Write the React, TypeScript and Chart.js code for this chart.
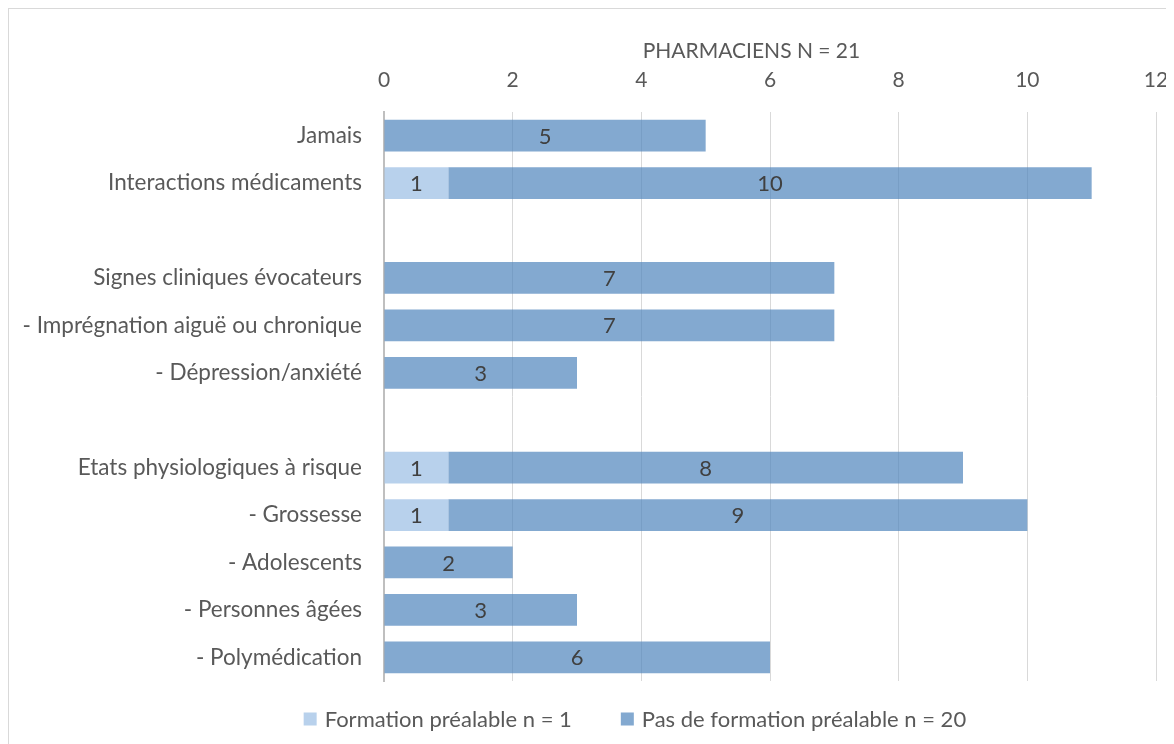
import React, { useEffect, useRef } from "react";
import { Chart, registerables } from "chart.js";

Chart.register(...registerables);

const categories: string[] = [
  "Jamais",
  "Interactions médicaments",
  "",
  "Signes cliniques évocateurs",
  "- Imprégnation aiguë ou chronique",
  "- Dépression/anxiété",
  " ",
  "Etats physiologiques à risque",
  "- Grossesse",
  "- Adolescents",
  "- Personnes âgées",
  "- Polymédication",
];

const formationValues: (number | null)[] = [0, 1, null, 0, 0, 0, null, 1, 1, 0, 0, 0];
const pasFormationValues: (number | null)[] = [5, 10, null, 7, 7, 3, null, 8, 9, 2, 3, 6];

const seriesLabels: string[] = ["Formation préalable n = 1", "Pas de formation préalable n = 20"];
const axisTitle = "PHARMACIENS N = 21";
const tickStep = 2;
const axisMax = 12;

const FONT = "Lato, 'Open Sans', sans-serif";
const TEXT = "#595959";
const LIGHT = "rgba(160,193,230,0.75)";
const DARK = "rgba(78,133,188,0.7)";

const valueLabels = {
  id: "valueLabels",
  afterDatasetsDraw(chart: any) {
    const ctx = chart.ctx;
    ctx.save();
    ctx.fillStyle = "#404040";
    ctx.font = `22px ${FONT}`;
    ctx.textAlign = "center";
    ctx.textBaseline = "middle";
    chart.data.datasets.forEach((ds: any, di: number) => {
      const meta = chart.getDatasetMeta(di);
      meta.data.forEach((bar: any, i: number) => {
        const v = ds.data[i];
        if (v === null || v === 0 || v === undefined) return;
        const x = (bar.x + bar.base) / 2;
        ctx.fillText(String(v), x, bar.y + 1);
      });
    });
    ctx.restore();
  },
};

const titleAndLegend = {
  id: "titleAndLegend",
  afterDraw(chart: any) {
    const ctx = chart.ctx;
    const area = chart.chartArea;
    ctx.save();
    // axis title
    ctx.fillStyle = TEXT;
    ctx.font = `21px ${FONT}`;
    ctx.textAlign = "center";
    ctx.textBaseline = "middle";
    ctx.fillText(axisTitle, area.left + (area.right - area.left) * 0.476, 42);
    // legend
    ctx.font = `22px ${FONT}`;
    ctx.textAlign = "left";
    const box = 13;
    const gap = 8;
    const spacing = 49;
    const items = chart.data.datasets.map((ds: any) => ({
      text: ds.label,
      color: ds.backgroundColor,
      w: box + gap + ctx.measureText(ds.label).width,
    }));
    const total = items.reduce((s: number, it: any) => s + it.w, 0) + spacing * (items.length - 1);
    const centerX = area.left + (area.right - area.left) * 0.325;
    let x = centerX - total / 2;
    const y = area.bottom + 38;
    items.forEach((it: any) => {
      ctx.fillStyle = it.color;
      ctx.fillRect(x, y - box / 2, box, box);
      ctx.fillStyle = TEXT;
      ctx.fillText(it.text, x + box + gap, y + 1);
      x += it.w + spacing;
    });
    ctx.restore();
  },
};

export default function App() {
  const ref = useRef<HTMLCanvasElement>(null);
  useEffect(() => {
    if (!ref.current) return;
    const chart = new Chart(ref.current, {
      type: "bar",
      data: {
        labels: categories,
        datasets: [
          {
            label: seriesLabels[0],
            data: formationValues,
            backgroundColor: LIGHT,
            borderWidth: 0,
            categoryPercentage: 1,
            barPercentage: 0.67,
          },
          {
            label: seriesLabels[1],
            data: pasFormationValues,
            backgroundColor: DARK,
            borderWidth: 0,
            categoryPercentage: 1,
            barPercentage: 0.67,
          },
        ],
      },
      options: {
        indexAxis: "y",
        responsive: false,
        animation: false,
        layout: { padding: { left: 0, right: 21, top: 0, bottom: 62 } },
        scales: {
          x: {
            position: "top",
            stacked: true,
            min: 0,
            max: axisMax,
            ticks: {
              stepSize: tickStep,
              color: TEXT,
              font: { family: FONT, size: 21 },
              padding: 19,
              maxRotation: 0,
            },
            grid: { color: "#d9d9d9", drawTicks: false, lineWidth: 1 },
            border: { display: false },
            afterFit(scale: any) {
              scale.height = 103;
              scale.paddingLeft = 0;
              scale.paddingRight = 0;
            },
          },
          y: {
            stacked: true,
            ticks: {
              color: TEXT,
              font: { family: FONT, size: 22.5 },
              padding: 22,
              autoSkip: false,
            },
            grid: { display: false, drawTicks: false },
            border: { display: true, color: "#bfbfbf", width: 2 },
            afterFit(scale: any) {
              scale.width = 375;
            },
          },
        },
        plugins: {
          legend: { display: false },
          tooltip: { enabled: false },
        },
      },
      plugins: [valueLabels, titleAndLegend],
    });
    return () => chart.destroy();
  }, []);
  return (
    <div
      style={{
        width: 1170,
        height: 740,
        border: "1px solid #d9d9d9",
        boxSizing: "border-box",
        position: "relative",
        background: "#fff",
      }}
    >
      <canvas ref={ref} width={1168} height={734} style={{ display: "block" }} />
    </div>
  );
}
